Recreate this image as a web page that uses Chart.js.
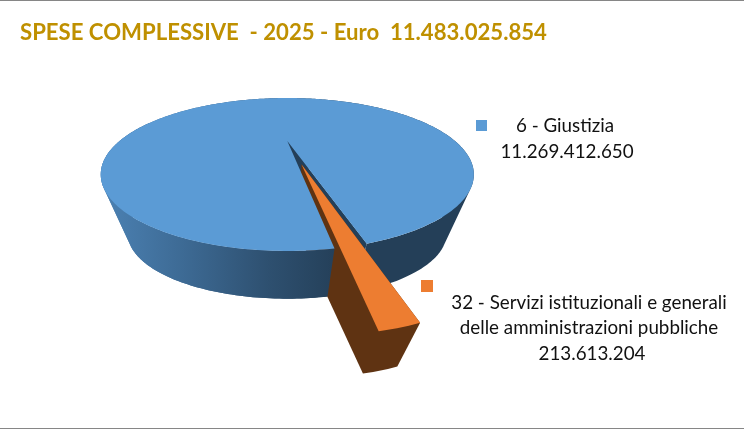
<!DOCTYPE html>
<html>
<head>
<meta charset="utf-8">
<style>html,body{margin:0;padding:0;background:#fff}canvas{display:block}</style>
<script src="https://cdn.jsdelivr.net/npm/chart.js@4"></script>
</head>
<body>
<canvas id="c" width="744" height="429"></canvas>
<script>
const titleText = 'SPESE COMPLESSIVE  - 2025 - Euro  11.483.025.854';
const categories = ['6 - Giustizia', '32 - Servizi istituzionali e generali|delle amministrazioni pubbliche'];
const spese = [11269412650, 213613204];
const sliceColors = ['#5B9BD5', '#ED7D31'];
const wallColors = ['#243F58', '#5F3312'];
const explode = [0, 53];

// Perspective used to show the flat pie as a tilted disc
const view = {x0: 287.3, y0: 141, a: 167.7, b: 61.8, k: 0.438, vpx: 286, vpy: 580};
const depth = [0.855, 0.83];
function project(u, v) {
  const w = 1 - view.k * v;
  return [view.x0 + view.a * u / w, view.y0 + view.b * v / w];
}
function lower(p, f) {
  return [view.vpx + (p[0] - view.vpx) * f, view.vpy + (p[1] - view.vpy) * f];
}
function polygon(ctx, pts, fill) {
  ctx.beginPath();
  pts.forEach((p, i) => i ? ctx.lineTo(p[0], p[1]) : ctx.moveTo(p[0], p[1]));
  ctx.closePath();
  ctx.fillStyle = fill;
  ctx.fill();
}
function sliceGeometry(arc) {
  const R = arc.outerRadius;
  const s = arc.startAngle, e = arc.endAngle, mid = (s + e) / 2;
  const d = (arc.options.offset || 0) / R;
  const ox = d * Math.cos(mid), oy = d * Math.sin(mid);
  const rim = [];
  const n = Math.max(2, Math.ceil((e - s) / (Math.PI / 180)));
  for (let i = 0; i <= n; i++) {
    const t = s + (e - s) * i / n;
    rim.push(project(ox + Math.cos(t), oy + Math.sin(t)));
  }
  return {apex: project(ox, oy), rim};
}
function wallPath(ctx, rim, f) {
  ctx.beginPath();
  for (let i = 0; i < rim.length - 1; i++) {
    const q = [rim[i], rim[i + 1], lower(rim[i + 1], f), lower(rim[i], f)];
    let area = 0;
    q.forEach((p, j) => { const o = q[(j + 1) % 4]; area += p[0] * o[1] - o[0] * p[1]; });
    if (area < 0) q.reverse();
    q.forEach((p, j) => j ? ctx.lineTo(p[0], p[1]) : ctx.moveTo(p[0], p[1]));
    ctx.closePath();
  }
}
const pie3d = {
  id: 'pie3d',
  beforeDatasetsDraw(chart) {
    const ctx = chart.ctx;
    const arcs = chart.getDatasetMeta(0).data;
    const big = sliceGeometry(arcs[0]);
    const small = sliceGeometry(arcs[1]);
    const fb = depth[0], fs = depth[1];
    ctx.save();
    // outer wall of the large slice
    const g = ctx.createLinearGradient(100, 0, 340, 0);
    g.addColorStop(0, '#4C82B4');
    g.addColorStop(0.35, '#3D6A94');
    g.addColorStop(0.7, '#2E5070');
    g.addColorStop(1, wallColors[0]);
    wallPath(ctx, big.rim, fb);
    ctx.fillStyle = g;
    ctx.fill();
    // cut faces of the large slice
    const a0 = big.apex, a1 = lower(a0, fb);
    const rs = big.rim[0], re = big.rim[big.rim.length - 1];
    polygon(ctx, [a0, rs, lower(rs, fb), a1], wallColors[0]);
    polygon(ctx, [a0, re, lower(re, fb), a1], wallColors[0]);
    polygon(ctx, [a0, rs, re], wallColors[0]);
    // walls of the exploded slice, as one outline so no seam shows
    const b0 = small.apex, b1 = lower(b0, fs);
    const lowerRim = small.rim.map(p => lower(p, fs)).reverse();
    polygon(ctx, [b0, b1, ...lowerRim, small.rim[0]], wallColors[1]);
    // the front-left part of the large wall stands before the exploded slice
    wallPath(ctx, big.rim.slice(0, 120), fb);
    ctx.fillStyle = g;
    ctx.fill();
    // top faces
    polygon(ctx, [big.apex, ...big.rim], arcs[0].options.backgroundColor);
    polygon(ctx, [small.apex, ...small.rim], arcs[1].options.backgroundColor);
    ctx.restore();
    return false;
  }
};
const it = n => String(n).replace(/\B(?=(\d{3})+$)/g, '.');
const annotations = {
  id: 'annotations',
  afterDraw(chart) {
    const ctx = chart.ctx;
    ctx.save();
    ctx.fillStyle = '#868686';
    ctx.fillRect(0, 0, 744, 1);
    ctx.fillRect(0, 428, 744, 1);
    const place = [
      {sq: [476, 120, 11], cx: [565, 567], y0: 126},
      {sq: [421, 280, 12], cx: [589, 589, 592], y0: 302.5}
    ];
    ctx.font = '18.8px Lato';
    ctx.textAlign = 'center';
    ctx.textBaseline = 'middle';
    categories.forEach((name, i) => {
      const s = place[i];
      ctx.fillStyle = sliceColors[i];
      ctx.fillRect(s.sq[0], s.sq[1], s.sq[2], s.sq[2]);
      ctx.fillStyle = '#111';
      name.split('|').concat(it(spese[i])).forEach((line, j) => {
        ctx.fillText(line, s.cx[j], s.y0 + j * 25.5);
      });
    });
    ctx.restore();
  }
};
new Chart(document.getElementById('c'), {
  type: 'pie',
  data: {
    labels: categories,
    datasets: [{data: spese, backgroundColor: sliceColors, offset: explode, borderWidth: 0}]
  },
  options: {
    responsive: false,
    animation: false,
    rotation: 170.8,
    layout: {padding: {left: 20}},
    plugins: {
      legend: {display: false},
      tooltip: {enabled: false},
      title: {
        display: true, text: titleText, align: 'start', color: '#BF9000',
        font: {family: 'Lato', size: 22.15, weight: 'bold'},
        padding: {top: 20, bottom: 10}
      }
    }
  },
  plugins: [pie3d, annotations]
});
</script>
</body>
</html>
